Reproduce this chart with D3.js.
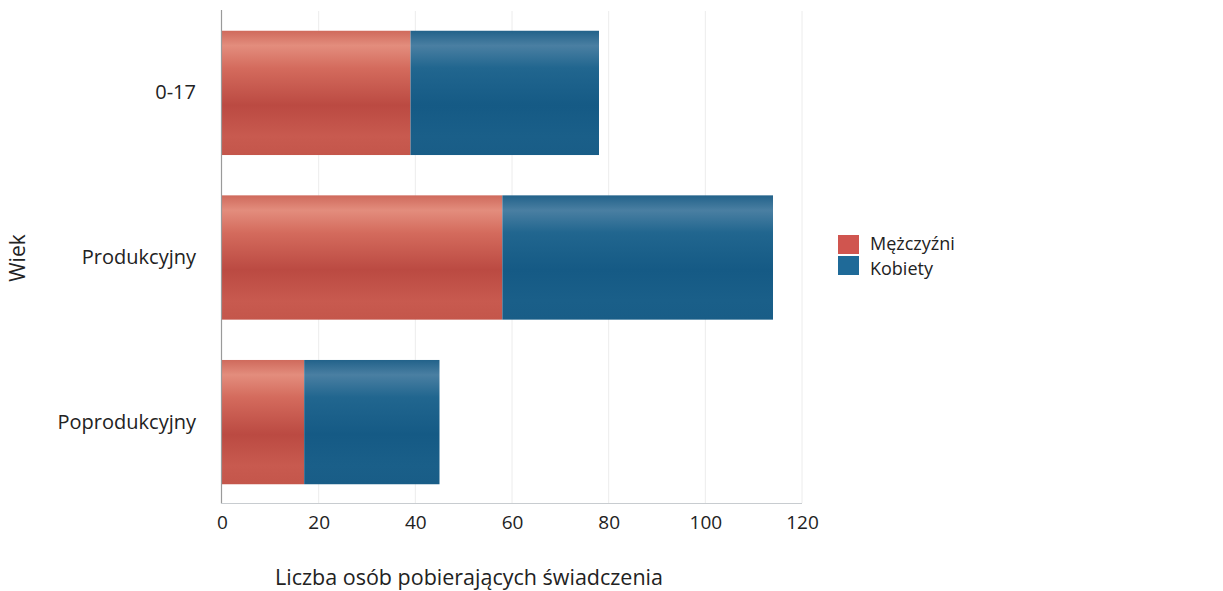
<!DOCTYPE html>
<html><head><meta charset="utf-8">
<script src="https://cdn.jsdelivr.net/npm/d3@7"></script>
<style>body{margin:0;background:#fff;} text{font-family:"Open Sans","DejaVu Sans",sans-serif;fill:#222;}</style>
</head><body>
<svg id="c" width="1223" height="591"></svg>
<script>
const categories = ["0-17", "Produkcyjny", "Poprodukcyjny"];
const seriesNames = ["Mężczyźni", "Kobiety"];
const men = [39, 58, 17];
const women = [39, 56, 28];
const xTicks = [0, 20, 40, 60, 80, 100, 120];

const svg = d3.select("#c");
const x = d3.scaleLinear().domain([0, 120]).range([222, 802]);
const y = d3.scaleBand().domain(categories).range([11, 504]).paddingInner(0.245).paddingOuter(0.12);

const defs = svg.append("defs");
function grad(id, stops){
  const g = defs.append("linearGradient").attr("id", id).attr("x1",0).attr("y1",0).attr("x2",0).attr("y2",1);
  stops.forEach(s => g.append("stop").attr("offset", s[0]).attr("stop-color", s[1]));
}
grad("gRed", [[0,"#cf6a5c"],[0.12,"#e38d7d"],[0.3,"#d46b5d"],[0.6,"#bb4a42"],[0.85,"#c85a4f"],[1,"#c4564b"]]);
grad("gBlue", [[0,"#22628a"],[0.12,"#4a7fa2"],[0.3,"#21668f"],[0.6,"#155a85"],[0.85,"#1a5f89"],[1,"#195d87"]]);
const fills = ["url(#gRed)", "url(#gBlue)"];
const legendColors = ["#d0554f", "#1f6a98"];

// gridlines
svg.append("g").selectAll("line").data(xTicks.slice(1)).join("line")
  .attr("x1", d => x(d)).attr("x2", d => x(d)).attr("y1", 11).attr("y2", 503)
  .attr("stroke", "#ececec").attr("stroke-width", 1);

// stacked data
const data = categories.map((c, i) => ({cat: c, "Mężczyźni": men[i], "Kobiety": women[i]}));
const stack = d3.stack().keys(seriesNames)(data);

svg.append("g").selectAll("g").data(stack).join("g")
  .attr("fill", (d, i) => fills[i])
  .selectAll("rect").data(d => d).join("rect")
  .attr("x", d => x(d[0])).attr("width", d => x(d[1]) - x(d[0]))
  .attr("y", d => y(d.data.cat)).attr("height", y.bandwidth());

// axes lines
svg.append("line").attr("x1", 221.5).attr("x2", 221.5).attr("y1", 10).attr("y2", 503.5).attr("stroke", "#9a9a9a").attr("stroke-width", 1.2);
svg.append("line").attr("x1", 221).attr("x2", 802).attr("y1", 503.5).attr("y2", 503.5).attr("stroke", "#c8ccd0").attr("stroke-width", 1);

const FF = '"Open Sans","DejaVu Sans",sans-serif';
// x tick labels
const xAxis = d3.axisBottom(x).tickValues(xTicks).tickSize(0).tickPadding(0);
const gx = svg.append("g").attr("transform", "translate(0,511)").call(xAxis);
gx.select(".domain").remove();
gx.selectAll("text").attr("font-size", 19).attr("dy", "0.95em").style("font-family", FF).attr("fill", "#222");

// y labels
const yAxis = d3.axisLeft(y).tickSize(0).tickPadding(0);
const gy = svg.append("g").attr("transform", "translate(196,0)").call(yAxis);
gy.select(".domain").remove();
gy.selectAll("text").attr("font-size", 20).style("font-family", FF).attr("fill", "#222");

// titles
svg.append("text").attr("x", 469).attr("y", 585).attr("text-anchor", "middle").attr("font-size", 21.5).text("Liczba osób pobierających świadczenia");
svg.append("text").attr("transform", "translate(25,258) rotate(-90)").attr("text-anchor", "middle").attr("font-size", 21).text("Wiek");

// legend
const lg = svg.append("g").attr("transform", "translate(838,234)");
seriesNames.forEach((s, i) => {
  lg.append("rect").attr("x", 0).attr("y", i * 21 + 1).attr("width", 21).attr("height", 19).attr("fill", legendColors[i]);
  lg.append("text").attr("x", 32).attr("y", i * 25 + 16).attr("font-size", 18).text(s);
});
</script>
</body></html>
